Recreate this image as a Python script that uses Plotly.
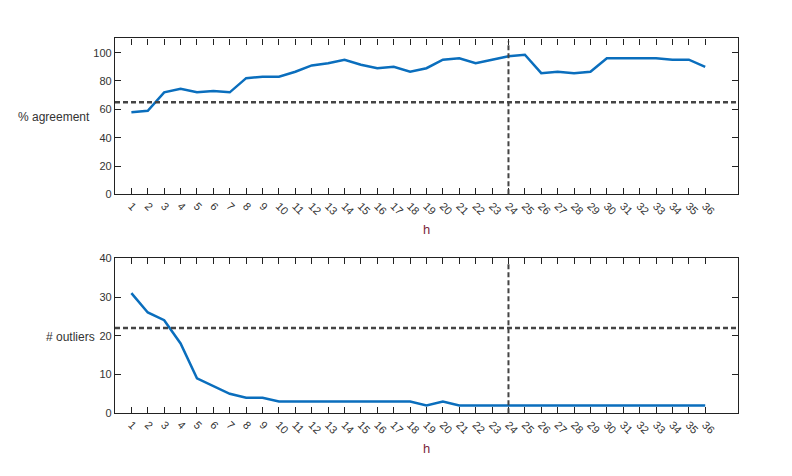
import plotly.graph_objects as go

h = list(range(1, 37))
agreement = [58, 59, 72, 74.5, 72, 73, 72, 82, 83, 83, 86.5, 91, 92.5, 95, 91.5, 89, 90,
             86.5, 89, 95, 96, 92.5, 95, 97.5, 98.5, 85.5, 86.5, 85.5, 86.5, 96, 96, 96, 96,
             95, 95, 90]
outliers = [31, 26, 24, 18, 9, 7, 5, 4, 4, 3, 3, 3, 3, 3, 3, 3, 3, 3, 2, 3, 2, 2, 2, 2,
            2, 2, 2, 2, 2, 2, 2, 2, 2, 2, 2, 2]
agree_threshold = 65
outlier_threshold = 22
h_selected = 24

LINE_BLUE = "#0A6EBD"
DASH_GREY = "#444444"
TEXT_GREY = "#333333"
H_COLOR = "#7B1F3A"

W, H = 792, 476


def py(pix):
    # pixel row (from top) -> paper fraction, with a small stretch about the centre
    # to match how the page comes out in the screenshot
    pix = 225.5 + (pix - 225.5) * 1.025
    return 1 - pix / H


fig = go.Figure()
fig.add_trace(go.Scatter(x=h, y=agreement, mode="lines",
                         line=dict(color=LINE_BLUE, width=2.5),
                         xaxis="x", yaxis="y", showlegend=False))
fig.add_trace(go.Scatter(x=h, y=outliers, mode="lines",
                         line=dict(color=LINE_BLUE, width=2.5),
                         xaxis="x2", yaxis="y2", showlegend=False))

xdom = [115 / W, 738 / W]
axis_common = dict(showline=True, linecolor="#222222", linewidth=1.2, mirror="ticks",
                   ticks="inside", ticklen=6, tickcolor="#222222", tickwidth=1,
                   showgrid=False, zeroline=False,
                   tickfont=dict(family="Liberation Sans, Arial", size=11, color=TEXT_GREY))

xax = dict(axis_common, domain=xdom, range=[0, 38], tickvals=h, tickangle=45)
fig.update_layout(
    xaxis=dict(xax, anchor="y"),
    yaxis=dict(axis_common, domain=[py(194), py(38)], range=[0, 110],
               tickvals=[0, 20, 40, 60, 80, 100], anchor="x"),
    xaxis2=dict(xax, anchor="y2"),
    yaxis2=dict(axis_common, domain=[py(413), py(258)], range=[0, 40],
                tickvals=[0, 10, 20, 30, 40], anchor="x2"),
    width=W, height=H,
    margin=dict(l=0, r=0, t=0, b=0),
    paper_bgcolor="white", plot_bgcolor="white",
)

# threshold lines
for xr, yr, yval in [("x", "y", agree_threshold), ("x2", "y2", outlier_threshold)]:
    fig.add_shape(type="line", xref=xr + " domain", yref=yr, x0=0, x1=1, y0=yval, y1=yval,
                  line=dict(color=DASH_GREY, width=2.5, dash="5px,3px"))
    fig.add_shape(type="line", xref=xr, yref=yr + " domain", x0=h_selected, x1=h_selected,
                  y0=0, y1=0.98, line=dict(color=DASH_GREY, width=2, dash="5px,3px"))

# axis labels
label_font = dict(family="Liberation Sans, Arial", size=12, color=TEXT_GREY)
fig.add_annotation(text="% agreement", xref="paper", yref="paper", x=92 / W,
                   y=py(117), xanchor="right", yanchor="middle",
                   showarrow=False, font=label_font)
fig.add_annotation(text="# outliers", xref="paper", yref="paper", x=97 / W,
                   y=py(337), xanchor="right", yanchor="middle",
                   showarrow=False, font=label_font)
for yy in [229, 448]:
    fig.add_annotation(text="h", xref="paper", yref="paper", x=426 / W,
                       y=py(yy), xanchor="center", yanchor="middle",
                       showarrow=False,
                       font=dict(family="Liberation Sans, Arial", size=13, color=H_COLOR))

# page body has a default margin; drop it so the figure sits at the window origin
fig.write_html("out.html", config={"displayModeBar": False},
               post_script="document.body.style.margin='0';")
